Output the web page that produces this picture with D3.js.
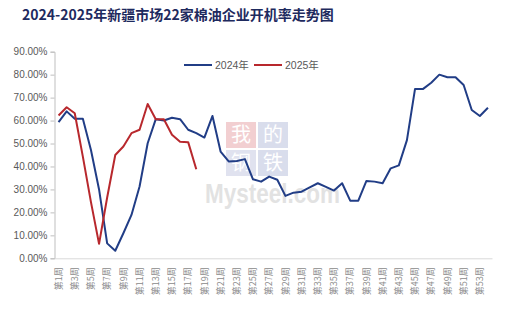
<!DOCTYPE html>
<html>
<head>
<meta charset="utf-8">
<script src="https://cdn.jsdelivr.net/npm/d3@7"></script>
<style>
  body { margin: 0; background: #fff; }
  svg { display: block; font-family: "Liberation Sans", Arial, "Noto Sans CJK SC", sans-serif; }
</style>
</head>
<body>
<svg id="chart"></svg>
<script>
// week categories (54 slots, every other one labelled)
const weeks = d3.range(1, 55).map(i => `第${i}周`);

const yTicks = [0, 0.1, 0.2, 0.3, 0.4, 0.5, 0.6, 0.7, 0.8, 0.9];

const rate2024 = [59.3, 64.0, 60.8, 60.8, 47.2, 30.0, 6.5, 3.3, 10.9, 18.9,
    31.3, 50.1, 60.6, 60.0, 61.2, 60.6, 56.0, 54.5, 52.6, 62.0,
    46.5, 42.2, 42.4, 43.2, 34.4, 33.4, 35.6, 34.2, 27.2, 28.6,
    29.0, 30.9, 32.7, 31.1, 29.5, 32.7, 25.1, 25.1, 33.7, 33.4,
    32.7, 39.2, 40.5, 51.5, 73.8, 73.8, 76.5, 80.0, 78.9, 78.9,
    75.5, 64.6, 62.0, 65.6];

const rate2025 = [62.2, 65.8, 63.2, 44.3, 24.5, 6.3, 26.5, 45.0, 48.7, 54.5,
    56.0, 67.2, 60.6, 60.6, 53.8, 50.8, 50.6, 38.8];

const seriesNames = ["2024年", "2025年"];
const colors = ["#213d86", "#b8282d"];

const W = 507, H = 326;
const margin = { top: 51.7, right: 15, bottom: 67.7, left: 54.5 };

const svg = d3.select("#chart").attr("width", W).attr("height", H);

const x = d3.scaleBand().domain(weeks).range([margin.left, W - margin.right]);
const y = d3.scaleLinear().domain([0, 0.9]).range([H - margin.bottom, margin.top]);

// title
svg.append("text")
    .attr("x", 22).attr("y", 20)
    .attr("fill", "#1e2a5e")
    .attr("font-size", 14)
    .attr("font-weight", "bold")
    .attr("font-family", "'Noto Sans CJK SC', sans-serif")
    .text("2024-2025年新疆市场22家棉油企业开机率走势图");

// watermark
const wm = svg.append("g").attr("opacity", 0.75);
const boxes = [
    { t: "我", x: 226, y: 122, c: "#eebfc2" },
    { t: "的", x: 258, y: 122, c: "#cdd2e6" },
    { t: "钢", x: 226, y: 150, c: "#d6d9ea" },
    { t: "铁", x: 258, y: 150, c: "#cdd2e6" }
];
boxes.forEach(b => {
    wm.append("rect").attr("x", b.x).attr("y", b.y).attr("width", 30).attr("height", 26).attr("fill", b.c);
    wm.append("text").attr("x", b.x + 15).attr("y", b.y + 20)
        .attr("text-anchor", "middle").attr("fill", "#fff")
        .attr("font-size", 20).attr("font-family", "'Noto Sans CJK SC', sans-serif")
        .text(b.t);
});
wm.append("text").attr("x", 205).attr("y", 203)
    .attr("fill", "#d9d9d9").attr("font-size", 27).attr("font-weight", "bold")
    .attr("textLength", 135).attr("lengthAdjust", "spacingAndGlyphs")
    .text("Mysteel.com");

// y axis
const yAxis = svg.append("g")
    .attr("transform", `translate(${margin.left},0)`)
    .call(d3.axisLeft(y).tickValues(yTicks).tickFormat(d3.format(".2%")).tickSize(4).tickPadding(3));
yAxis.select(".domain").attr("stroke", "#bfbfbf");
yAxis.selectAll(".tick line").attr("stroke", "#bfbfbf");
yAxis.selectAll(".tick text").attr("fill", "#595959").attr("font-size", 10);

// x axis
const xAxis = svg.append("g")
    .attr("transform", `translate(0,${H - margin.bottom})`)
    .call(d3.axisBottom(x).tickValues(weeks.filter((d, i) => i % 2 === 0)).tickSize(0).tickSizeOuter(0));
xAxis.select(".domain").attr("stroke", "#d9d9d9");
xAxis.selectAll(".tick text")
    .attr("fill", "#8a8a8a")
    .attr("font-size", 9)
    .attr("font-family", "'Noto Sans CJK SC', sans-serif")
    .attr("text-anchor", "end")
    .attr("transform", "rotate(-90)")
    .attr("x", -9).attr("y", 0).attr("dy", "0.35em");

// lines
const line = d3.line()
    .x((d, i) => x(weeks[i]) + x.bandwidth() / 2)
    .y(d => y(d / 100));

[rate2024, rate2025].forEach((s, k) => {
    svg.append("path")
        .datum(s)
        .attr("fill", "none")
        .attr("stroke", colors[k])
        .attr("stroke-width", 2)
        .attr("stroke-linejoin", "round")
        .attr("d", line);
});

// legend
const legendX = [184, 254];
seriesNames.forEach((n, k) => {
    const g = svg.append("g").attr("transform", `translate(${legendX[k]},65)`);
    g.append("line").attr("x1", 0).attr("x2", 28).attr("stroke", colors[k]).attr("stroke-width", 2);
    g.append("text").attr("x", 31).attr("y", 0).attr("dy", "0.35em")
        .attr("fill", "#595959").attr("font-size", 10.5).text(n);
});
</script>
</body>
</html>
